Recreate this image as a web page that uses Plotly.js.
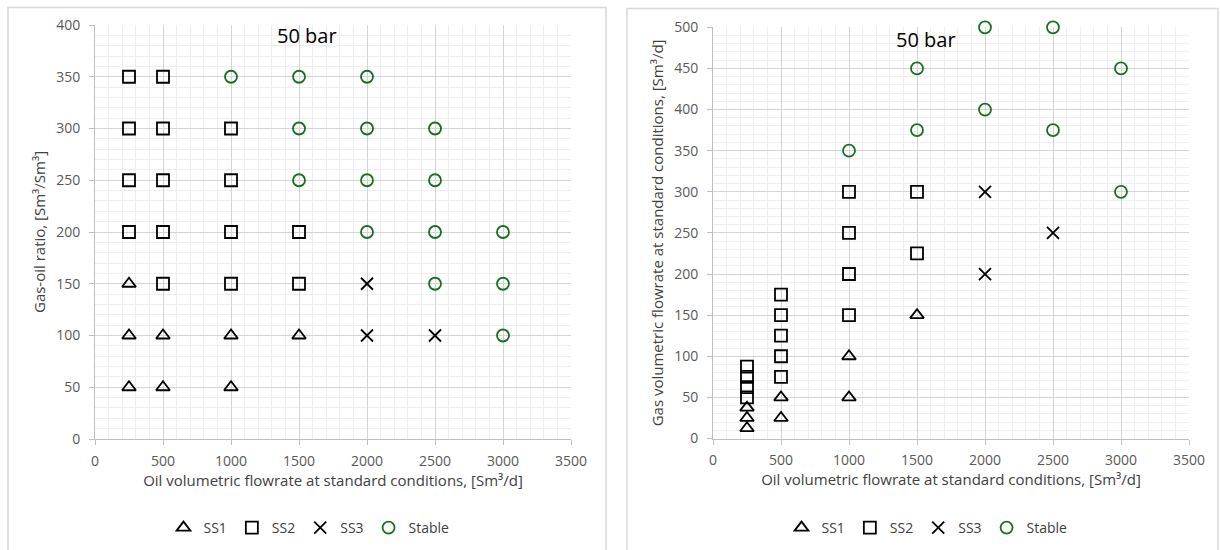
<!DOCTYPE html>
<html>
<head>
<meta charset="utf-8">
<script src="https://cdn.plot.ly/plotly-3.0.1.min.js"></script>
<style>
  html, body { margin: 0; padding: 0; background: #ffffff; }
  #chart { width: 1220px; height: 550px; }
</style>
</head>
<body>
<div id="chart"></div>
<script>
// Flow-regime map at 50 bar: gas-oil ratio vs oil rate (left)
const gorSS1Oil = [250, 250, 500, 1000, 1500, 250, 500, 1000];
const gorSS1Gor = [150, 100, 100, 100, 100, 50, 50, 50];

const gorSS2Oil = [250, 500, 250, 500, 1000, 250, 500, 1000, 250, 500, 1000, 1500, 500, 1000, 1500];
const gorSS2Gor = [350, 350, 300, 300, 300, 250, 250, 250, 200, 200, 200, 200, 150, 150, 150];

const gorSS3Oil = [2000, 2000, 2500];
const gorSS3Gor = [150, 100, 100];

const gorStableOil = [1000, 1500, 2000, 1500, 2000, 2500, 1500, 2000, 2500, 2000, 2500, 3000, 2500, 3000, 3000];
const gorStableGor = [350, 350, 350, 300, 300, 300, 250, 250, 250, 200, 200, 200, 150, 150, 100];

// Same map as gas rate vs oil rate (right)
const gasSS1Oil = [250, 250, 250, 500, 500, 1000, 1000, 1500];
const gasSS1Gas = [12.5, 25, 37.5, 25, 50, 50, 100, 150];

const gasSS2Oil = [250, 250, 250, 250, 500, 500, 500, 500, 500, 1000, 1000, 1000, 1000, 1500, 1500];
const gasSS2Gas = [50, 62.5, 75, 87.5, 75, 100, 125, 150, 175, 150, 200, 250, 300, 225, 300];

const gasSS3Oil = [2000, 2000, 2500];
const gasSS3Gas = [200, 300, 250];

const gasStableOil = [1000, 1500, 1500, 2000, 2000, 2500, 2500, 3000, 3000];
const gasStableGas = [350, 375, 450, 400, 500, 375, 500, 300, 450];

const seriesNames = ['SS1', 'SS2', 'SS3', 'Stable'];
const chartLabel = '50 bar';
const xTitle = 'Oil volumetric flowrate at standard conditions, [Sm³/d]';
const yTitleLeft = 'Gas-oil ratio, [Sm³/Sm³]';
const yTitleRight = 'Gas volumetric flowrate at standard conditions, [Sm³/d]';

const W = 1220, H = 550;
const FONT = 'Open Sans, Noto Sans, sans-serif';
const GREEN = '#17701f';

const styles = [
  {symbol: 'triangle-up-open', color: '#000000'},
  {symbol: 'square-open', color: '#000000'},
  {symbol: 'x-thin-open', color: '#000000'},
  {symbol: 'circle-open', color: GREEN}
];

function mk(xs, ys, i, xa, ya, leg) {
  return {
    type: 'scatter', mode: 'markers',
    x: xs, y: ys, name: seriesNames[i],
    xaxis: xa, yaxis: ya, legend: leg,
    cliponaxis: false,
    marker: {symbol: styles[i].symbol, size: 12, color: styles[i].color,
             line: {color: styles[i].color, width: 1.8}}
  };
}

const data = [
  mk(gorSS1Oil, gorSS1Gor, 0, 'x', 'y', 'legend'),
  mk(gorSS2Oil, gorSS2Gor, 1, 'x', 'y', 'legend'),
  mk(gorSS3Oil, gorSS3Gor, 2, 'x', 'y', 'legend'),
  mk(gorStableOil, gorStableGor, 3, 'x', 'y', 'legend'),
  mk(gasSS1Oil, gasSS1Gas, 0, 'x2', 'y2', 'legend2'),
  mk(gasSS2Oil, gasSS2Gas, 1, 'x2', 'y2', 'legend2'),
  mk(gasSS3Oil, gasSS3Gas, 2, 'x2', 'y2', 'legend2'),
  mk(gasStableOil, gasStableGas, 3, 'x2', 'y2', 'legend2')
];

function xAxis(domain, anchor) {
  return {
    domain: domain, anchor: anchor, range: [0, 3500], dtick: 500, tick0: 0,
    showgrid: true, gridcolor: '#d4d4d4', gridwidth: 1,
    minor: {dtick: 100, showgrid: true, gridcolor: '#eeeeee', gridwidth: 1, ticks: ''},
    showline: true, linecolor: '#bfbfbf', linewidth: 1,
    ticks: 'outside', ticklen: 5, tickcolor: '#bfbfbf',
    ticklabelstandoff: 4,
    zeroline: false,
    tickfont: {family: FONT, size: 14, color: '#595959'},
    title: {text: xTitle, standoff: 6, font: {family: FONT, size: 15, color: '#404040'}}
  };
}
function yAxis(domain, anchor, max, title) {
  return {
    domain: domain, anchor: anchor, range: [0, max], dtick: 50, tick0: 0,
    showgrid: true, gridcolor: '#d4d4d4', gridwidth: 1,
    minor: {dtick: 10, showgrid: true, gridcolor: '#eeeeee', gridwidth: 1, ticks: ''},
    showline: true, linecolor: '#bfbfbf', linewidth: 1,
    ticks: 'outside', ticklen: 5, tickcolor: '#bfbfbf',
    ticklabelstandoff: 6,
    zeroline: false,
    tickfont: {family: FONT, size: 14, color: '#595959'},
    title: {text: title, standoff: 6, font: {family: FONT, size: 15, color: '#404040'}}
  };
}

function legend(xc) {
  return {
    orientation: 'h', x: xc, xanchor: 'center', y: 1 - 528 / H, yanchor: 'middle',
    font: {family: FONT, size: 14, color: '#404040'},
    itemwidth: 30,
    bgcolor: 'rgba(0,0,0,0)', tracegroupgap: 0
  };
}

const layout = {
  width: W, height: H,
  margin: {l: 0, r: 0, t: 0, b: 0},
  paper_bgcolor: '#ffffff', plot_bgcolor: '#ffffff',
  showlegend: true,
  xaxis: xAxis([95 / W, 571 / W], 'y'),
  yaxis: yAxis([1 - 439 / H, 1 - 25 / H], 'x', 400, yTitleLeft),
  xaxis2: xAxis([713 / W, 1189 / W], 'y2'),
  yaxis2: yAxis([1 - 438.5 / H, 1 - 27.3 / H], 'x2', 500, yTitleRight),
  legend: legend(309 / W),
  legend2: legend(927 / W),
  annotations: [
    {text: chartLabel, xref: 'paper', yref: 'paper', x: 307 / W, y: 1 - 36 / H,
     xanchor: 'center', yanchor: 'middle', showarrow: false,
     font: {family: FONT, size: 20, color: '#000000'}},
    {text: chartLabel, xref: 'paper', yref: 'paper', x: 926 / W, y: 1 - 39 / H,
     xanchor: 'center', yanchor: 'middle', showarrow: false,
     font: {family: FONT, size: 20, color: '#000000'}}
  ],
  shapes: [
    {type: 'rect', xref: 'paper', yref: 'paper', x0: 8 / W, x1: 606 / W, y0: -0.05, y1: 1 - 7.5 / H,
     line: {color: '#d9d9d9', width: 1.5}, layer: 'below'},
    {type: 'rect', xref: 'paper', yref: 'paper', x0: 627 / W, x1: 1218 / W, y0: -0.05, y1: 1 - 8.5 / H,
     line: {color: '#d9d9d9', width: 1.5}, layer: 'below'}
  ]
};

Plotly.newPlot('chart', data, layout, {staticPlot: true, displayModeBar: false});
</script>
</body>
</html>
